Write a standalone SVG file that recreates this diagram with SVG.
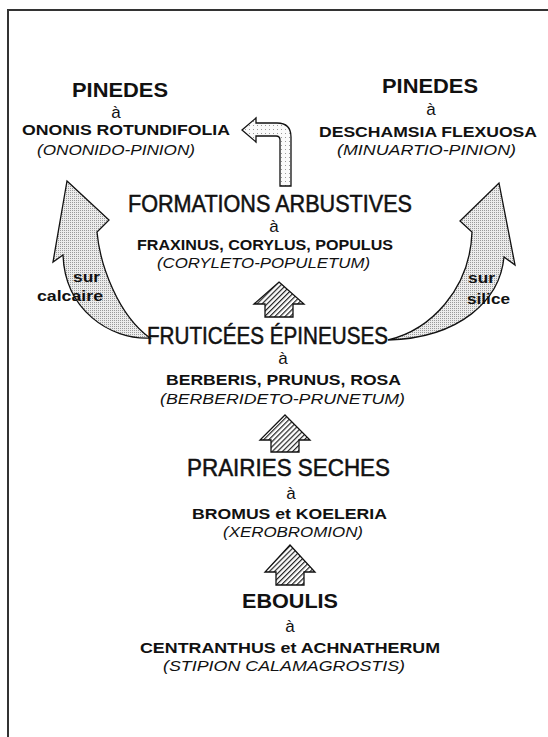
<svg xmlns="http://www.w3.org/2000/svg" width="548" height="737" viewBox="0 0 548 737">
<style>
text{font-family:"Liberation Sans",Arial,Helvetica,sans-serif;fill:#111}
.h{font-size:23px;stroke:#111;stroke-width:0.5}
.hb{font-size:21px;font-weight:bold}
.a{font-size:17px}
.s{font-size:15px;font-weight:bold}
.i{font-size:15px;font-style:italic}
.l{font-size:15px;font-weight:bold}
.out{stroke:#111;stroke-width:1.3;stroke-linejoin:miter}
</style>
<defs>
<pattern id="stip" patternUnits="userSpaceOnUse" width="2" height="2">
<rect width="2" height="2" fill="#ececec"/>
<rect width="1" height="1" fill="#9a9a9a"/>
</pattern>
<pattern id="dots" patternUnits="userSpaceOnUse" width="4" height="4">
<rect width="4" height="4" fill="#fafafa"/>
<rect x="1" y="1" width="1" height="1" fill="#999"/>
</pattern>
<pattern id="hatch" patternUnits="userSpaceOnUse" width="3.6" height="3.6" patternTransform="rotate(45)">
<rect width="3.6" height="3.6" fill="#fff"/>
<rect width="1.2" height="3.6" fill="#222"/>
</pattern>
</defs>
<rect width="548" height="737" fill="#fff"/>
<path d="M8,737 L8,10 L548,10" fill="none" stroke="#333" stroke-width="2"/>

<g id="connectors">
<path id="arrow-calcaire" class="out" fill="url(#stip)" d="M67,181 L109,220 L97,232 C100,265 118,315 150,338 C110,340 65,310 63,255 L53,262 Z"/>
<path id="arrow-silice" class="out" fill="url(#stip)" d="M499,183 L515,265 L504,257 C500,300 460,338 388,340 C430,330 470,290 472,232 L460,221 Z"/>
<path id="arrow-bent" class="out" fill="url(#dots)" d="M242,130 L256,118 L256,123 L277,123 Q291,123 291,137 L291,186 L280,186 L280,140 Q280,136 276,136 L256,136 L256,142 Z"/>
<path id="arrow-1" class="out" fill="url(#hatch)" d="M279,282 L304,304 L293,304 L293,317 L265,317 L265,304 L254,304 Z"/>
<path id="arrow-2" class="out" fill="url(#hatch)" d="M285,415 L310,440 L299,440 L299,452 L271,452 L271,440 L260,440 Z"/>
<path id="arrow-3" class="out" fill="url(#hatch)" d="M290,545 L315,572 L304,572 L304,585 L276,585 L276,572 L265,572 Z"/>
<text class="l" x="73" y="282" textLength="27" lengthAdjust="spacingAndGlyphs">sur</text>
<text class="l" x="37" y="301" textLength="66" lengthAdjust="spacingAndGlyphs">calcaire</text>
<text class="l" x="468" y="283" textLength="27" lengthAdjust="spacingAndGlyphs">sur</text>
<text class="l" x="467" y="304" textLength="43" lengthAdjust="spacingAndGlyphs">silice</text>
</g>

<g id="pinedes-calcaire">
<text class="hb" x="72" y="97" textLength="96" lengthAdjust="spacingAndGlyphs">PINEDES</text>
<text class="a" x="116" y="118" text-anchor="middle">à</text>
<text class="s" x="22" y="135" textLength="208" lengthAdjust="spacingAndGlyphs">ONONIS ROTUNDIFOLIA</text>
<text class="i" x="37" y="155" textLength="158" lengthAdjust="spacingAndGlyphs">(ONONIDO-PINION)</text>
</g>

<g id="pinedes-silice">
<text class="hb" x="382" y="93" textLength="96" lengthAdjust="spacingAndGlyphs">PINEDES</text>
<text class="a" x="431" y="115" text-anchor="middle">à</text>
<text class="s" x="319" y="137" textLength="218" lengthAdjust="spacingAndGlyphs">DESCHAMSIA FLEXUOSA</text>
<text class="i" x="337" y="155" textLength="179" lengthAdjust="spacingAndGlyphs">(MINUARTIO-PINION)</text>
</g>

<g id="formations-arbustives">
<text class="h" x="128" y="212" textLength="284" lengthAdjust="spacingAndGlyphs">FORMATIONS ARBUSTIVES</text>
<text class="a" x="274" y="232" text-anchor="middle">à</text>
<text class="s" x="137" y="250" textLength="256" lengthAdjust="spacingAndGlyphs">FRAXINUS, CORYLUS, POPULUS</text>
<text class="i" x="157" y="268" textLength="213" lengthAdjust="spacingAndGlyphs">(CORYLETO-POPULETUM)</text>
</g>

<g id="fruticees-epineuses">
<text class="h" x="147" y="344" textLength="241" lengthAdjust="spacingAndGlyphs">FRUTICÉES ÉPINEUSES</text>
<text class="a" x="283" y="364" text-anchor="middle">à</text>
<text class="s" x="166" y="385" textLength="235" lengthAdjust="spacingAndGlyphs">BERBERIS, PRUNUS, ROSA</text>
<text class="i" x="160" y="404" textLength="245" lengthAdjust="spacingAndGlyphs">(BERBERIDETO-PRUNETUM)</text>
</g>

<g id="prairies-seches">
<text class="h" x="187" y="476" textLength="203" lengthAdjust="spacingAndGlyphs">PRAIRIES SECHES</text>
<text class="a" x="291" y="499" text-anchor="middle">à</text>
<text class="s" x="192" y="519" textLength="195" lengthAdjust="spacingAndGlyphs">BROMUS et KOELERIA</text>
<text class="i" x="223" y="537" textLength="140" lengthAdjust="spacingAndGlyphs">(XEROBROMION)</text>
</g>

<g id="eboulis">
<text class="hb" x="242" y="608" textLength="96" lengthAdjust="spacingAndGlyphs">EBOULIS</text>
<text class="a" x="290" y="632" text-anchor="middle">à</text>
<text class="s" x="140" y="653" textLength="300" lengthAdjust="spacingAndGlyphs">CENTRANTHUS et ACHNATHERUM</text>
<text class="i" x="163" y="671" textLength="242" lengthAdjust="spacingAndGlyphs">(STIPION CALAMAGROSTIS)</text>
</g>
</svg>
